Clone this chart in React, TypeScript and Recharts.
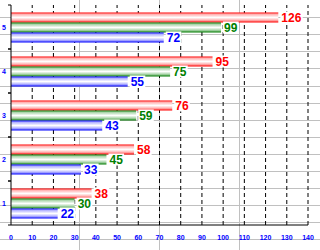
import { BarChart, Bar, XAxis, YAxis, LabelList } from "recharts";

const categories = ["1", "2", "3", "4", "5"];
const redValues = [38, 58, 76, 95, 126];
const greenValues = [30, 45, 59, 75, 99];
const blueValues = [22, 33, 43, 55, 72];
const xTicks = [0, 10, 20, 30, 40, 50, 60, 70, 80, 90, 100, 110, 120, 130, 140];

const rows = categories.map((cat, i) => ({
  cat,
  red: redValues[i],
  green: greenValues[i],
  blue: blueValues[i],
}));

const CHART_W = 320;
const CHART_H = 250;
const MARGIN = { top: 5, right: 12, bottom: 0, left: 0 };
const X_AXIS_H = 25;
const X_TICK_OFFSET = 10; // tickSize + tickMargin
const PLOT_H = CHART_H - MARGIN.top - MARGIN.bottom - X_AXIS_H;

const tickFont = "'Liberation Sans', Arial, sans-serif";

// page background: light gray grid behind the chart
const bgH = Array.from({ length: 14 }, (_, i) => Math.round(17.1 * (i + 1)));
const bgV = [80, 160, 240];

function valueLabel(color: string) {
  return (props: any) => {
    const { x, y, width, height, value } = props;
    const tx = x + width + 3;
    const cy = y + height / 2;
    const w = String(value).length * 6.8 + 2;
    return (
      <g>
        <rect x={tx - 1} y={cy - 6} width={w} height={12} fill="#fff" />
        <text
          x={tx}
          y={cy}
          dy="0.36em"
          fill={color}
          fontSize={12}
          fontWeight="bold"
          fontFamily={tickFont}
        >
          {value}
        </text>
      </g>
    );
  };
}

// dashed gridline running up from each x tick (drawn in the back chart)
function GridTick(props: any) {
  const { x, y, payload } = props;
  if (payload.value === 0) return <g />;
  const axisY = y - X_TICK_OFFSET;
  return (
    <line x1={x} x2={x} y1={axisY} y2={axisY - PLOT_H} stroke="#000" strokeDasharray="4 3" />
  );
}

function CatTick(props: any) {
  const { x, y, payload } = props;
  const off = payload?.offset ?? 22;
  const ax = x + 5;
  return (
    <g>
      <line x1={ax - 3} x2={ax} y1={y - off} y2={y - off} stroke="#000" />
      <line x1={ax - 3} x2={ax} y1={y + off} y2={y + off} stroke="#000" />
      <text
        x={x}
        y={y}
        dy="0.36em"
        textAnchor="end"
        fill="#0000ff"
        fontSize={7}
        fontWeight="bold"
        fontFamily={tickFont}
      >
        {payload.value}
      </text>
    </g>
  );
}

function Grad({ id, color, light }: { id: string; color: string; light: string }) {
  return (
    <linearGradient id={id} x1="0" y1="0" x2="0" y2="1">
      <stop offset="0%" stopColor={color} />
      <stop offset="18%" stopColor={light} />
      <stop offset="50%" stopColor="#ffffff" />
      <stop offset="78%" stopColor={light} />
      <stop offset="100%" stopColor={color} />
    </linearGradient>
  );
}

const layer: React.CSSProperties = { position: "absolute", left: 0, top: 0 };

export default function App() {
  return (
    <div style={{ ...layer, width: CHART_W, height: CHART_H, background: "#fff" }}>
      <svg width={CHART_W} height={CHART_H} style={layer}>
        {bgH.map((v) => (
          <line key={"h" + v} x1={0} x2={CHART_W} y1={v + 0.5} y2={v + 0.5} stroke="#c0c0c0" />
        ))}
        {bgV.map((v) => (
          <line key={"v" + v} x1={v - 0.5} x2={v - 0.5} y1={0} y2={CHART_H} stroke="#c0c0c0" />
        ))}
      </svg>

      {/* back chart: only the dashed vertical grid, so bars cover it */}
      <div style={layer}>
        <BarChart width={CHART_W} height={CHART_H} data={rows} layout="vertical" margin={MARGIN}>
          <XAxis
            type="number"
            domain={[0, 140]}
            ticks={xTicks}
            interval={0}
            height={X_AXIS_H}
            tickLine={false}
            tickSize={8}
            tickMargin={2}
            axisLine={false}
            tick={<GridTick />}
          />
          <YAxis type="category" dataKey="cat" reversed width={11} tick={false} axisLine={false} tickLine={false} />
          <Bar dataKey="red" fill="transparent" isAnimationActive={false} />
        </BarChart>
      </div>

      <div style={layer}>
        <BarChart
          width={CHART_W}
          height={CHART_H}
          data={rows}
          layout="vertical"
          margin={MARGIN}
          barCategoryGap="17%"
          barGap={0}
        >
          <defs>
            <Grad id="gRed" color="#ff0000" light="#ffb0b0" />
            <Grad id="gGreen" color="#007a00" light="#a8d4a8" />
            <Grad id="gBlue" color="#0000ff" light="#b0b0ff" />
          </defs>
          <XAxis
            type="number"
            domain={[0, 140]}
            ticks={xTicks}
            interval={0}
            height={X_AXIS_H}
            tickLine={false}
            tickSize={8}
            tickMargin={2}
            axisLine={{ stroke: "#000" }}
            tick={{ fill: "#0000ff", fontSize: 7, fontWeight: "bold", fontFamily: tickFont }}
          />
          <YAxis
            type="category"
            dataKey="cat"
            reversed
            width={11}
            tickLine={false}
            tickSize={3}
            tickMargin={2}
            axisLine={{ stroke: "#000" }}
            tick={<CatTick />}
          />
          <Bar dataKey="red" fill="url(#gRed)" isAnimationActive={false}>
            <LabelList dataKey="red" content={valueLabel("#ff0000")} />
          </Bar>
          <Bar dataKey="green" fill="url(#gGreen)" isAnimationActive={false}>
            <LabelList dataKey="green" content={valueLabel("#008000")} />
          </Bar>
          <Bar dataKey="blue" fill="url(#gBlue)" isAnimationActive={false}>
            <LabelList dataKey="blue" content={valueLabel("#0000ff")} />
          </Bar>
        </BarChart>
      </div>
    </div>
  );
}
